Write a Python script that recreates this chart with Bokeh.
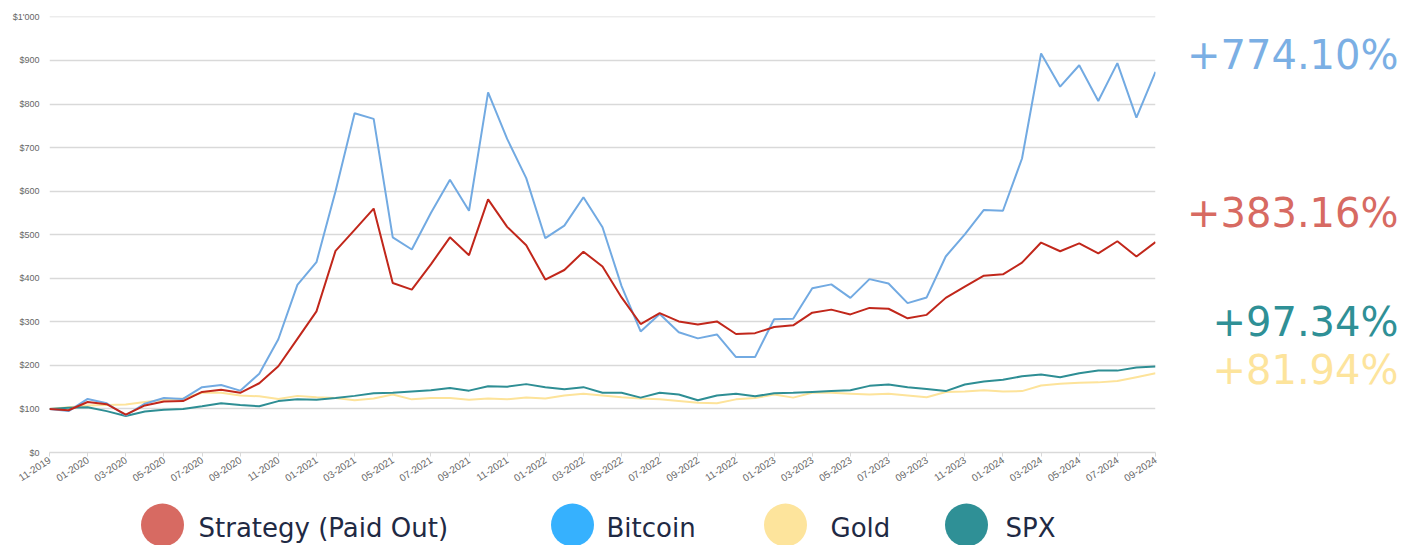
from bokeh.plotting import figure
from bokeh.layouts import column, row
from bokeh.models import Range1d, FixedTicker, ColumnDataSource
from bokeh.core.properties import value
from bokeh.embed import file_html
from bokeh.resources import INLINE

# ---------------- data ----------------
months = ["11-2019", "12-2019",
          "01-2020", "02-2020", "03-2020", "04-2020", "05-2020", "06-2020",
          "07-2020", "08-2020", "09-2020", "10-2020", "11-2020", "12-2020",
          "01-2021", "02-2021", "03-2021", "04-2021", "05-2021", "06-2021",
          "07-2021", "08-2021", "09-2021", "10-2021", "11-2021", "12-2021",
          "01-2022", "02-2022", "03-2022", "04-2022", "05-2022", "06-2022",
          "07-2022", "08-2022", "09-2022", "10-2022", "11-2022", "12-2022",
          "01-2023", "02-2023", "03-2023", "04-2023", "05-2023", "06-2023",
          "07-2023", "08-2023", "09-2023", "10-2023", "11-2023", "12-2023",
          "01-2024", "02-2024", "03-2024", "04-2024", "05-2024", "06-2024",
          "07-2024", "08-2024", "09-2024"]

strategy = [100, 97, 116, 111, 87, 108, 117, 118, 139, 144, 137, 159, 198, 261,
            324, 463, 511, 560, 389, 374, 432, 494, 453, 581, 518, 476,
            397, 419, 461, 427, 356, 295, 320, 301, 294, 301, 272, 274,
            288, 292, 321, 328, 317, 332, 330, 308, 316, 355, 381, 406,
            409, 436, 482, 462, 480, 457, 485, 450, 483.16]

bitcoin = [100, 95, 123, 113, 85, 112, 125, 123, 150, 155, 142, 181, 260, 385,
           437, 600, 779, 766, 494, 466, 550, 626, 555, 827, 720, 630,
           492, 521, 586, 517, 382, 278, 318, 276, 262, 271, 219, 219,
           306, 307, 377, 386, 355, 398, 388, 343, 356, 450, 501, 557,
           555, 675, 916, 840, 889, 807, 894, 769, 874.10]

gold = [100, 104, 108, 109, 110, 116, 121, 124, 137, 137, 131, 129, 123, 130,
        127, 125, 120, 124, 133, 122, 125, 125, 121, 124, 122, 126,
        124, 131, 135, 131, 127, 124, 122, 118, 114, 113, 122, 125,
        133, 126, 137, 137, 135, 133, 135, 131, 127, 139, 140, 143,
        140, 141, 154, 158, 160, 161, 164, 173, 181.94]

spx = [100, 103, 104, 95, 84, 94, 98, 100, 106, 113, 109, 106, 118, 122,
       121, 125, 130, 136, 137, 140, 143, 148, 142, 152, 151, 157,
       150, 145, 150, 137, 137, 126, 137, 133, 120, 131, 135, 129,
       136, 137, 139, 141, 143, 153, 156, 150, 146, 141, 156, 163,
       167, 175, 179, 173, 182, 188, 188, 195, 197.34]

y_ticks = [0, 100, 200, 300, 400, 500, 600, 700, 800, 900, 1000]
y_tick_labels = ["$0", "$100", "$200", "$300", "$400", "$500", "$600",
                 "$700", "$800", "$900", "$1'000"]

series_names = ["Strategy (Paid Out)", "Bitcoin", "Gold", "SPX"]
totals = ["+774.10%", "+383.16%", "+97.34%", "+81.94%"]

# ---------------- styles ----------------
line_colors = {"Strategy (Paid Out)": "#c1271b", "Bitcoin": "#72aae2",
               "Gold": "#fde39a", "SPX": "#2e8e94"}
legend_colors = ["#d76a62", "#36b1fe", "#fde49c", "#2f9096"]
total_colors = ["#7bafe4", "#d76a62", "#2f9096", "#fde49c"]
# vertical anchor of the big totals, expressed on the chart's value scale
total_pos = [913, 551, 300, 189]

grid_col = "#d9d9d9"
tick_col = "#666666"
TOP_H = 490
Y_MAX = 1001

x = list(range(len(months)))
src = ColumnDataSource(dict(x=x, strategy=strategy, bitcoin=bitcoin,
                            gold=gold, spx=spx))

p = figure(width=1160, height=TOP_H, x_range=Range1d(0, len(months) - 1),
           y_range=Range1d(0, Y_MAX), output_backend="svg",
           toolbar_location=None, min_border_left=49, min_border_right=5,
           min_border_top=16, min_border_bottom=38)
p.outline_line_color = None
p.background_fill_color = "white"
p.border_fill_color = "white"

# grid
p.xgrid.grid_line_color = None
p.ygrid.grid_line_color = grid_col
p.ygrid.grid_line_width = 1.3
p.ygrid.ticker = FixedTicker(ticks=y_ticks)

# y axis
p.yaxis.ticker = FixedTicker(ticks=y_ticks)
p.yaxis.major_label_overrides = {t: l for t, l in zip(y_ticks, y_tick_labels)}
p.yaxis.axis_line_color = None
p.yaxis.major_tick_line_color = None
p.yaxis.major_tick_out = 0
p.yaxis.major_tick_in = 0
p.yaxis.minor_tick_line_color = None
p.yaxis.minor_tick_out = 0
p.yaxis.major_label_standoff = 10
p.yaxis.major_label_text_font = "Liberation Sans"
p.yaxis.major_label_text_font_size = "9px"
p.yaxis.major_label_text_color = tick_col

# x axis
xt = list(range(0, len(months), 2))
p.xaxis.ticker = FixedTicker(ticks=xt)
p.xaxis.major_label_overrides = {i: months[i] for i in xt}
p.xaxis.major_label_orientation = 0.58
p.xaxis.axis_line_color = grid_col
p.xaxis.axis_line_width = 1.3
p.xaxis.major_tick_line_color = grid_col
p.xaxis.major_tick_out = 4
p.xaxis.major_tick_in = 0
p.xaxis.minor_tick_line_color = None
p.xaxis.major_label_standoff = 2
p.xaxis.major_label_text_font = "Liberation Sans"
p.xaxis.major_label_text_font_size = "10px"
p.xaxis.major_label_text_color = tick_col

# lines
p.line("x", "gold", source=src, line_color=line_colors["Gold"], line_width=2)
p.line("x", "spx", source=src, line_color=line_colors["SPX"], line_width=2)
p.line("x", "bitcoin", source=src, line_color=line_colors["Bitcoin"], line_width=2)
p.line("x", "strategy", source=src, line_color=line_colors["Strategy (Paid Out)"],
       line_width=2)

# ---------------- right panel with totals (frame aligned with chart) ----------------
RW = 1419 - 1160
pr = figure(width=RW, height=TOP_H, x_range=Range1d(0, RW), y_range=Range1d(0, Y_MAX),
            output_backend="svg", toolbar_location=None, min_border_left=0,
            min_border_right=0, min_border_top=16, min_border_bottom=38)
pr.axis.visible = False
pr.grid.grid_line_color = None
pr.outline_line_color = None
pr.background_fill_color = "white"
pr.border_fill_color = "white"
rsrc = ColumnDataSource(dict(x=[RW - 21] * 4, y=total_pos, t=totals, c=total_colors))
pr.text("x", "y", text="t", source=rsrc, text_align="right",
        text_baseline="alphabetic", text_color="c",
        text_font=value("DejaVu Sans"), text_font_size="40px")

# ---------------- legend strip ----------------
LH = 545 - TOP_H
lg = figure(width=1419, height=LH, x_range=Range1d(0, 1419), y_range=Range1d(0, LH),
            output_backend="svg", toolbar_location=None, min_border=0)
lg.axis.visible = False
lg.grid.grid_line_color = None
lg.outline_line_color = None
lg.background_fill_color = "white"
lg.border_fill_color = "white"

legend_dot_x = [162, 572, 785, 966]
legend_text_x = [198, 606, 830, 1005]
lsrc = ColumnDataSource(dict(x=legend_dot_x, y=[20.5] * 4, c=legend_colors,
                             tx=legend_text_x, ty=[18] * 4, t=series_names))
lg.scatter("x", "y", source=lsrc, size=43, fill_color="c", line_color=None)
lg.text("tx", "ty", text="t", source=lsrc, text_baseline="middle",
        text_align="left", text_color="#1f2a44",
        text_font=value("DejaVu Sans"), text_font_size="26px")

layout = column(row(p, pr, spacing=0), lg, spacing=0)
open("out.html", "w").write(file_html(layout, INLINE))
